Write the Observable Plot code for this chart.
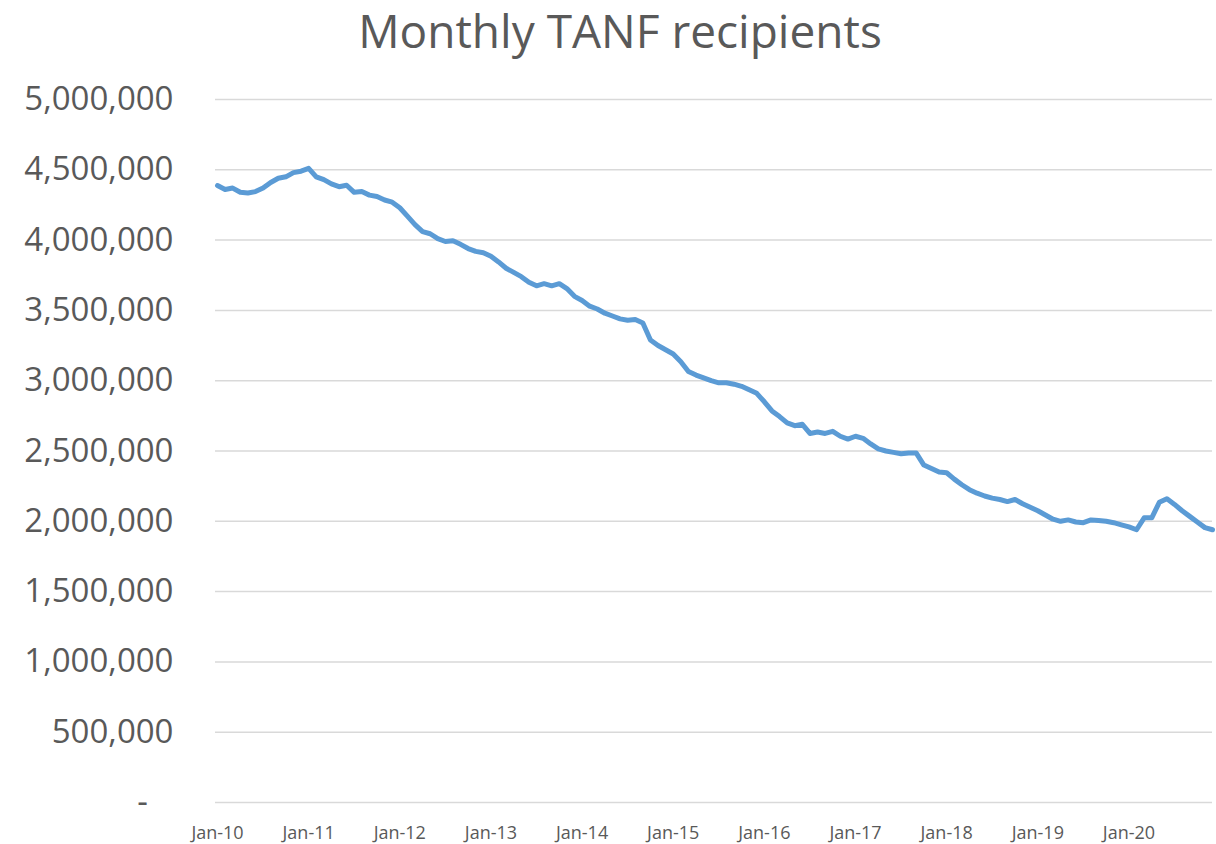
<!DOCTYPE html>
<html>
<head>
<meta charset="utf-8">
<script src="https://cdn.jsdelivr.net/npm/d3@7"></script>
<script src="https://cdn.jsdelivr.net/npm/@observablehq/plot@0.6"></script>
<style>
  html, body { margin: 0; padding: 0; background: #fff; }
  #title {
    width: 1216px; height: 70px; box-sizing: border-box;
    padding-top: 0; padding-left: 24px;
    font-family: "Open Sans", sans-serif; font-size: 46px; line-height: 60px;
    color: #595959; text-align: center;
  }
  svg { display: block; }
</style>
</head>
<body>
<div id="title">Monthly TANF recipients</div>
<div id="chart"></div>
<script>
// Monthly TANF recipients, Jan 2010 – Dec 2020
const startYear = 2010;
const recipients = [
  4388000, 4360000, 4370000, 4340000, 4335000, 4345000, 4370000, 4410000, 4440000, 4450000, 4480000, 4490000,
  4510000, 4450000, 4430000, 4400000, 4380000, 4390000, 4340000, 4345000, 4320000, 4310000, 4285000, 4270000,
  4230000, 4170000, 4110000, 4060000, 4045000, 4010000, 3990000, 3995000, 3970000, 3940000, 3920000, 3910000,
  3885000, 3845000, 3800000, 3770000, 3740000, 3700000, 3675000, 3690000, 3675000, 3690000, 3655000, 3600000,
  3570000, 3530000, 3510000, 3480000, 3460000, 3440000, 3430000, 3435000, 3410000, 3290000, 3250000, 3220000,
  3190000, 3135000, 3065000, 3040000, 3020000, 3000000, 2985000, 2985000, 2975000, 2960000, 2935000, 2910000,
  2850000, 2785000, 2745000, 2700000, 2680000, 2690000, 2625000, 2635000, 2625000, 2640000, 2605000, 2585000,
  2605000, 2590000, 2550000, 2515000, 2500000, 2490000, 2480000, 2485000, 2485000, 2400000, 2375000, 2350000,
  2345000, 2300000, 2260000, 2225000, 2200000, 2180000, 2165000, 2155000, 2140000, 2155000, 2125000, 2100000,
  2075000, 2045000, 2015000, 2000000, 2010000, 1995000, 1990000, 2010000, 2005000, 2000000, 1990000, 1975000,
  1960000, 1940000, 2025000, 2025000, 2135000, 2160000, 2120000, 2075000, 2035000, 1995000, 1955000, 1940000
];
const monthNames = ["Jan","Feb","Mar","Apr","May","Jun","Jul","Aug","Sep","Oct","Nov","Dec"];
const months = recipients.map((_, i) =>
  monthNames[i % 12] + "-" + String((startYear + Math.floor(i / 12)) % 100).padStart(2, "0"));
const xTickLabels = ["Jan-10","Jan-11","Jan-12","Jan-13","Jan-14","Jan-15","Jan-16","Jan-17","Jan-18","Jan-19","Jan-20"];
const yTicks = [0, 500000, 1000000, 1500000, 2000000, 2500000, 3000000, 3500000, 4000000, 4500000, 5000000];

const data = months.map((m, i) => ({month: m, value: recipients[i]}));
const fmt = d3.format(",");

const chart = Plot.plot({
  width: 1216,
  height: 774,
  marginLeft: 217,
  marginRight: 4,
  marginTop: 29,
  marginBottom: 42,
  style: {fontFamily: "'Open Sans', sans-serif", color: "#595959", background: "#fff"},
  x: {type: "point", domain: months, padding: 0},
  y: {domain: [0, 5000000]},
  marks: [
    Plot.ruleY(yTicks, {stroke: "#d9d9d9", strokeWidth: 1.5, insetLeft: -2}),
    Plot.axisY({
      ticks: yTicks, tickSize: 0, tickPadding: 44, fontSize: 33, fill: "#595959",
      tickFormat: d => d === 0 ? "-\u00a0\u00a0\u00a0" : fmt(d), label: null
    }),
    Plot.axisX({
      ticks: xTickLabels, tickSize: 0, tickPadding: 24, fontSize: 18, fill: "#595959", label: null
    }),
    Plot.line(data, {x: "month", y: "value", stroke: "#5b9bd5", strokeWidth: 5, strokeLinejoin: "round", strokeLinecap: "round"})
  ]
});
document.getElementById("chart").appendChild(chart);
</script>
</body>
</html>
